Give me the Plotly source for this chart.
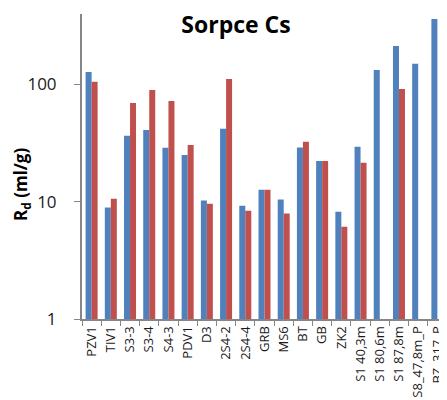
import plotly.graph_objects as go

categories = ["PZV1", "TIV1", "S3-3", "S3-4", "S4-3", "PDV1", "D3", "2S4-2", "2S4-4",
              "GRB", "MS6", "BT", "GB", "ZK2", "S1 40,3m", "S1 80,6m", "S1 87,8m",
              "S8_47,8m_P", "BZ_317_P"]
series_blue = [127, 8.9, 36.3, 40.8, 28.7, 25.0, 10.2, 41.7, 9.2,
               12.6, 10.4, 28.9, 22.2, 8.2, 29.3, 132, 212, 149, 359]
series_red = [105, 10.6, 69.3, 89.4, 72.1, 30.4, 9.6, 111, 8.35,
              12.6, 7.9, 32.3, 22.2, 6.1, 21.4, None, 91.2, None, None]
y_ticks = [1, 10, 100]
y_tick_labels = ["1", "10", "100"]

# page has an 8px body margin; the figure is sized so the page is 447x400
OFF = 8
W, H = 447 - OFF, 400 - OFF
L, R, T, B = 82 - OFF, 0, 14 - OFF, 81

FONT = "Open Sans, Lato, sans-serif"

fig = go.Figure()
fig.add_trace(go.Bar(x=categories, y=series_blue, marker_color="#4F81BD",
                     marker_line_width=0, name="A"))
fig.add_trace(go.Bar(x=categories, y=series_red, marker_color="#C0504D",
                     marker_line_width=0, name="B"))

fig.update_layout(
    width=W, height=H,
    margin=dict(l=L, r=R, t=T, b=B, pad=0, autoexpand=False),
    paper_bgcolor="white", plot_bgcolor="white",
    barmode="group", bargap=0.375, bargroupgap=0,
    showlegend=False,
    font=dict(family=FONT, color="#1a1a1a"),
    title=dict(text="<b>Sorpce Cs</b>", x=(236 - OFF) / W, xanchor="center",
               y=1 - (25 - OFF) / H, yanchor="middle",
               font=dict(size=23, color="#000000", family=FONT)),
)

fig.update_xaxes(
    type="category", range=[-0.5, len(categories) - 0.5], automargin=False,
    showline=True, linecolor="#868686", linewidth=2,
    ticks="outside", ticklen=5, tickcolor="#868686", tickwidth=1,
    tickson="boundaries", tickangle=-90,
    tickfont=dict(size=13, family=FONT, color="#1a1a1a"),
    showgrid=False, zeroline=False,
)

fig.update_yaxes(
    type="log", range=[0, 2.598], automargin=False,
    tickvals=y_ticks, ticktext=y_tick_labels,
    showline=True, linecolor="#868686", linewidth=2,
    ticks="outside", ticklen=6, tickcolor="#868686", tickwidth=1,
    ticklabelstandoff=14,
    tickfont=dict(size=17, family=FONT, color="#1a1a1a"),
    showgrid=False, zeroline=False,
)

fig.add_annotation(
    text="<b>R<sub>d</sub> (ml/g)</b>", textangle=-90,
    xref="paper", yref="paper",
    x=(21 - 82) / (W - L - R), y=(319 - 185) / (H - B - T),
    xanchor="center", yanchor="middle", showarrow=False,
    font=dict(size=17, family=FONT, color="#000000"),
)

fig.write_html("out.html")
